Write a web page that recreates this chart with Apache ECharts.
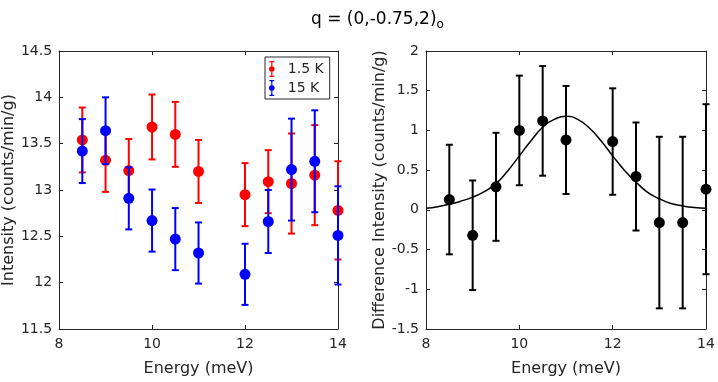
<!DOCTYPE html>
<html>
<head>
<meta charset="utf-8">
<script src="https://cdn.jsdelivr.net/npm/echarts@6/dist/echarts.min.js"></script>
<style>
  html, body { margin: 0; padding: 0; background: #fff; }
  #chart { width: 718px; height: 382px; }
</style>
</head>
<body>
<div id="chart"></div>
<script>
// energy transfer points (meV)
var energy = [8.5, 9, 9.5, 10, 10.5, 11, 12, 12.5, 13, 13.5, 14]

// 1.5 K and 15 K intensities with their errors
var int1p5K = [13.54, 13.32, 13.21, 13.68, 13.60, 13.20, 12.95, 13.09, 13.07, 13.16, 12.78]
var err1p5K = [0.35, 0.34, 0.34, 0.35, 0.35, 0.34, 0.34, 0.34, 0.54, 0.54, 0.53]
var int15K = [13.42, 13.64, 12.91, 12.67, 12.47, 12.32, 12.09, 12.66, 13.22, 13.31, 12.51]
var err15K = [0.345, 0.36, 0.335, 0.335, 0.335, 0.33, 0.33, 0.34, 0.55, 0.55, 0.53]

// difference (1.5 K - 15 K)
var diffInt = [0.13, -0.32, 0.29, 1.0, 1.12, 0.88, 0.86, 0.42, -0.16, -0.16, 0.26]
var diffErr = [0.69, 0.69, 0.68, 0.69, 0.69, 0.68, 0.67, 0.68, 1.08, 1.08, 1.07]

// fitted curve
var fitE = [8, 8.25, 8.5, 8.75, 9, 9.25, 9.5, 9.75, 10, 10.25, 10.5, 10.75, 11,
  11.25, 11.5, 11.75, 12, 12.25, 12.5, 12.75, 13, 13.25, 13.5, 13.75, 14]
var fitI = [0.02, 0.04, 0.07, 0.11, 0.16, 0.23, 0.33, 0.49, 0.68, 0.87, 1.04, 1.14, 1.18,
  1.14, 1.03, 0.87, 0.68, 0.50, 0.35, 0.22, 0.14, 0.08, 0.05, 0.03, 0.02]

var axisColor = '#262626'
var fontFam = 'DejaVu Sans, sans-serif'

function pts(xs, ys) {
  return xs.map(function (x, i) { return [x, ys[i]] })
}
function bars(xs, ys, es) {
  return xs.map(function (x, i) { return [x, ys[i], es[i]] })
}

// vertical error bar with caps
function errorBarItem(color) {
  return function (params, api) {
    var x = api.value(0), y = api.value(1), e = api.value(2)
    var top = api.coord([x, y + e])
    var bot = api.coord([x, y - e])
    var cap = 3.5
    var style = { stroke: color, lineWidth: 2 }
    return {
      type: 'group',
      children: [
        { type: 'line', shape: { x1: top[0], y1: top[1], x2: bot[0], y2: bot[1] }, style: style },
        { type: 'line', shape: { x1: top[0] - cap, y1: top[1], x2: top[0] + cap, y2: top[1] }, style: style },
        { type: 'line', shape: { x1: bot[0] - cap, y1: bot[1], x2: bot[0] + cap, y2: bot[1] }, style: style }
      ]
    }
  }
}

function xAx(grid, pos, show) {
  return {
    type: 'value', gridIndex: grid, position: pos, min: 8, max: 14, interval: 2,
    name: show ? 'Energy (meV)' : '', nameLocation: 'middle', nameGap: 32,
    nameTextStyle: { color: axisColor, fontSize: 16, fontFamily: fontFam },
    axisLine: { show: true, onZero: false, lineStyle: { color: axisColor, width: 1 } },
    axisTick: { show: true, inside: true, length: 4, lineStyle: { color: axisColor } },
    axisLabel: { show: show, color: axisColor, fontSize: 14, fontFamily: fontFam, margin: 8 },
    splitLine: { show: false }
  }
}
function yAx(grid, pos, min, max, name, gap) {
  return {
    type: 'value', gridIndex: grid, position: pos, min: min, max: max, interval: 0.5,
    name: name, nameLocation: 'middle', nameGap: gap,
    nameTextStyle: { color: axisColor, fontSize: 16, fontFamily: fontFam },
    axisLine: { show: true, onZero: false, lineStyle: { color: axisColor, width: 1 } },
    axisTick: { show: true, inside: true, length: 4, lineStyle: { color: axisColor } },
    axisLabel: { show: name !== '', color: axisColor, fontSize: 14, fontFamily: fontFam, margin: 7 },
    splitLine: { show: false }
  }
}

// legend icon: error bar with dot
var ebIcon = 'path://M2,0 L8,0 L8,1.5 L5.75,1.5 L5.75,18.5 L8,18.5 L8,20 L2,20 L2,18.5 L4.25,18.5 L4.25,1.5 L2,1.5 Z ' +
  'M1.5,10 A3.5,3.5 0 1,1 8.5,10 A3.5,3.5 0 1,1 1.5,10 Z'

var chart = echarts.init(document.getElementById('chart'))
chart.setOption({
  animation: false,
  backgroundColor: '#fff',
  title: {
    text: '{a|q = (0,-0.75,2)}{b|o}',
    left: 306, top: 4,
    textStyle: {
      fontWeight: 'normal',
      rich: {
        a: { fontSize: 17, color: '#000', fontFamily: fontFam, fontWeight: 'normal' },
        b: { fontSize: 12, color: '#000', fontFamily: fontFam, fontWeight: 'normal', padding: [10, 0, 0, 0] }
      }
    }
  },
  legend: {
    orient: 'vertical', left: 265, top: 57,
    padding: [4, 6, 3, 4], itemGap: 3, itemWidth: 22, itemHeight: 16,
    borderColor: axisColor, borderWidth: 1, backgroundColor: '#fff',
    textStyle: { color: axisColor, fontSize: 14, fontFamily: fontFam },
    data: [
      { name: '1.5 K', icon: ebIcon },
      { name: '15 K', icon: ebIcon }
    ]
  },
  grid: [
    { left: 58, top: 51, width: 280, height: 279 },
    { left: 426, top: 51, width: 280, height: 279 }
  ],
  xAxis: [xAx(0, 'bottom', true), xAx(0, 'top', false), xAx(1, 'bottom', true), xAx(1, 'top', false)],
  yAxis: [
    yAx(0, 'left', 11.5, 14.5, 'Intensity (counts/min/g)', 34),
    yAx(0, 'right', 11.5, 14.5, '', 0),
    yAx(1, 'left', -1.5, 2, 'Difference Intensity (counts/min/g)', 34),
    yAx(1, 'right', -1.5, 2, '', 0)
  ],
  series: [
    {
      name: 'err1p5', type: 'custom', xAxisIndex: 0, yAxisIndex: 0,
      renderItem: errorBarItem('#ff0000'), data: bars(energy, int1p5K, err1p5K), z: 2
    },
    {
      name: '1.5 K', type: 'scatter', xAxisIndex: 0, yAxisIndex: 0, symbolSize: 11,
      itemStyle: { color: '#ff0000', opacity: 1 }, data: pts(energy, int1p5K), z: 3
    },
    {
      name: 'err15', type: 'custom', xAxisIndex: 0, yAxisIndex: 0,
      renderItem: errorBarItem('#0000ff'), data: bars(energy, int15K, err15K), z: 4
    },
    {
      name: '15 K', type: 'scatter', xAxisIndex: 0, yAxisIndex: 0, symbolSize: 11,
      itemStyle: { color: '#0000ff', opacity: 1 }, data: pts(energy, int15K), z: 5
    },
    {
      name: 'errDiff', type: 'custom', xAxisIndex: 2, yAxisIndex: 2,
      renderItem: errorBarItem('#000000'), data: bars(energy, diffInt, diffErr), z: 2
    },
    {
      name: 'diff', type: 'scatter', xAxisIndex: 2, yAxisIndex: 2, symbolSize: 11,
      itemStyle: { color: '#000000', opacity: 1 }, data: pts(energy, diffInt), z: 3
    },
    {
      name: 'fit', type: 'line', xAxisIndex: 2, yAxisIndex: 2, smooth: true,
      showSymbol: false, lineStyle: { color: '#000000', width: 1.5 },
      data: pts(fitE, fitI), z: 4
    }
  ]
})
</script>
</body>
</html>
